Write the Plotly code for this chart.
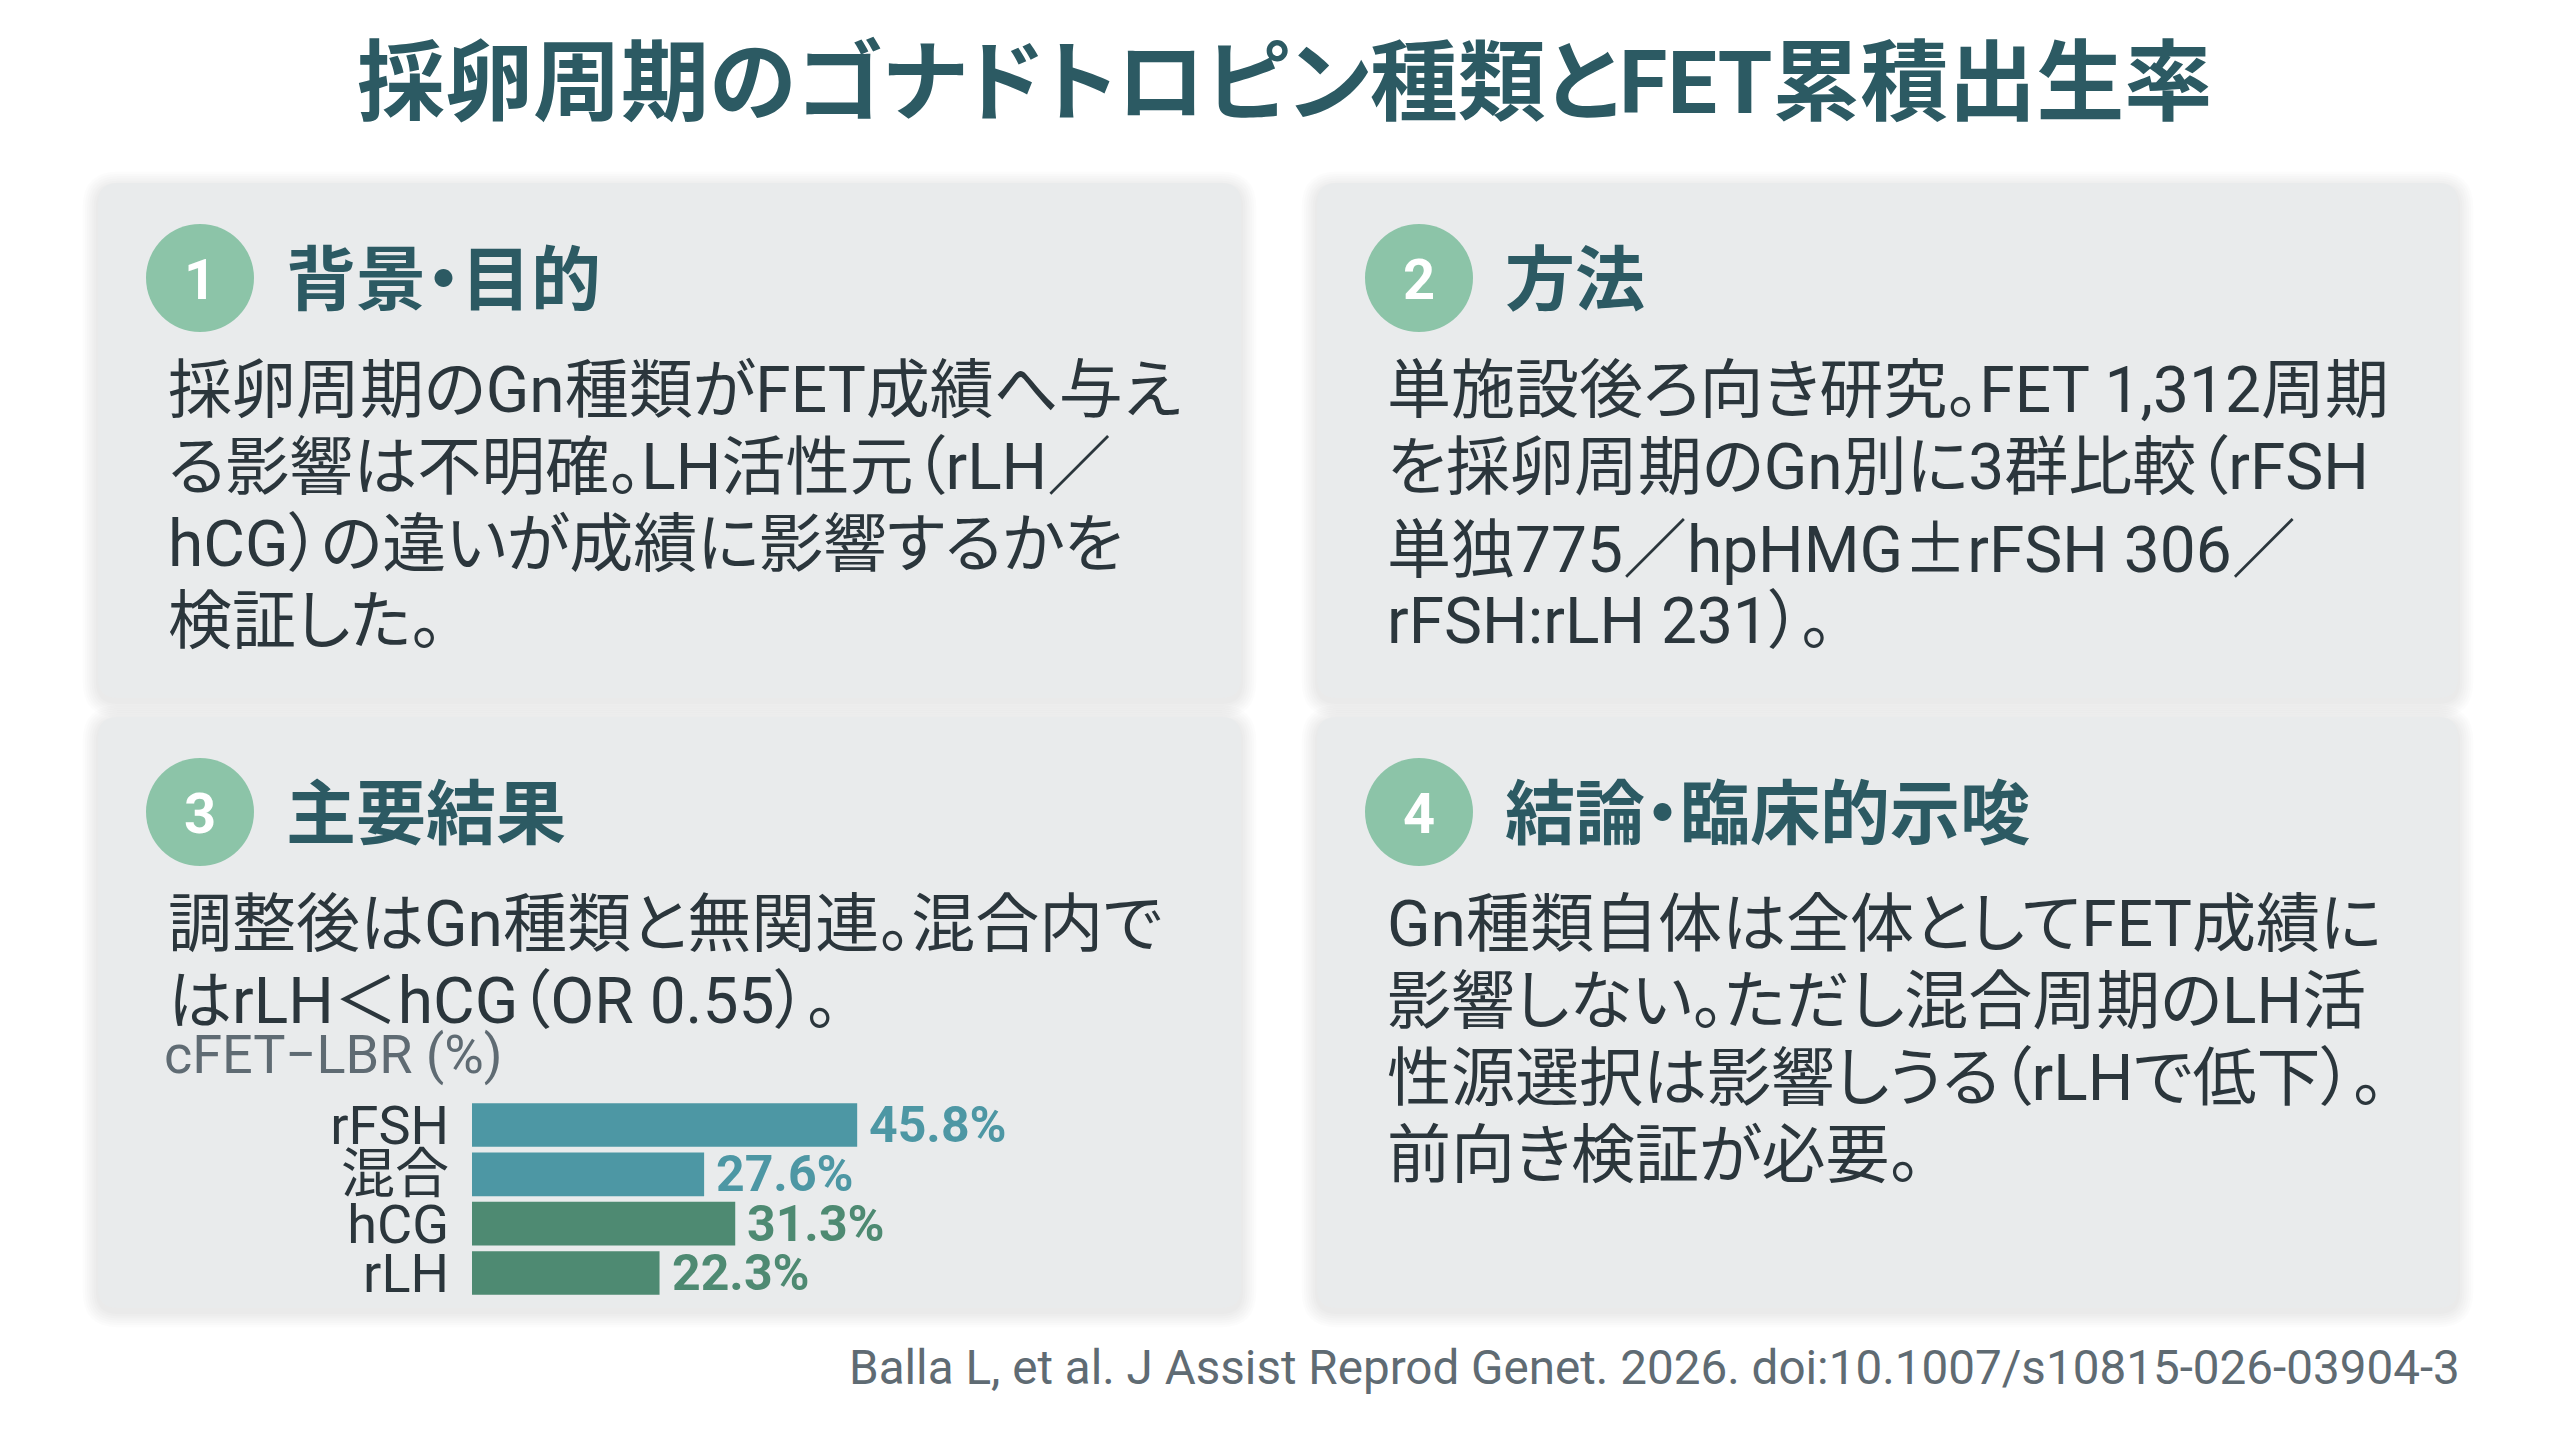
import plotly.graph_objects as go

# --- text content ---
TITLE = "採卵周期のゴナドトロピン種類とFET累積出生率"
SECTION_NUMS = ["1", "2", "3", "4"]
SECTION_HEADS = ["背景・目的", "方法", "主要結果", "結論・臨床的示唆"]
SECTION_1_LINES = [
    "採卵周期のGn種類がFET成績へ与え",
    "る影響は不明確。LH活性元（rLH／",
    "hCG）の違いが成績に影響するかを",
    "検証した。",
]
SECTION_2_LINES = [
    "単施設後ろ向き研究。FET 1,312周期",
    "を採卵周期のGn別に3群比較（rFSH",
    "単独775／hpHMG±rFSH 306／",
    "rFSH:rLH 231）。",
]
SECTION_3_LINES = [
    "調整後はGn種類と無関連。混合内で",
    "はrLH＜hCG（OR 0.55）。",
]
SECTION_4_LINES = [
    "Gn種類自体は全体としてFET成績に",
    "影響しない。ただし混合周期のLH活",
    "性源選択は影響しうる（rLHで低下）。",
    "前向き検証が必要。",
]
CHART_LABEL = "cFET−LBR (%)"
FOOTER = "Balla L, et al. J Assist Reprod Genet. 2026. doi:10.1007/s10815-026-03904-3"

# --- bar data ---
groups = ["rFSH", "混合", "hCG", "rLH"]
lbr_pct = [45.8, 27.6, 31.3, 22.3]

# --- styling ---
W, H = 2560, 1440
OFF = 8  # page body margin of the html file
FONT = "Roboto, Noto Sans CJK JP, sans-serif"
CJK = "Noto Sans CJK JP"
TEAL_DARK = "#2c5a63"
TEXT_DARK = "#2b363c"
CARD_FILL = "#e9ebec"
BADGE = "#8cc4a8"
GREY = "#5f6b73"
BAR_COLORS = ["#4d97a4", "#4d97a4", "#4e8a72", "#4e8a72"]

# card boxes (left, top, right, bottom) in page pixels
cards = [
    (98, 183, 1241, 698),
    (1317, 183, 2458, 698),
    (98, 717, 1241, 1308),
    (1317, 717, 2458, 1308),
]
section_lines = [SECTION_1_LINES, SECTION_2_LINES, SECTION_3_LINES, SECTION_4_LINES]


def jp(s):
    # proportional kana / punctuation, full-width plus-minus from the CJK font
    parts = s.split("±")
    out = []
    for i, p in enumerate(parts):
        if i > 0:
            out.append(f"<span style='font-family:{CJK};font-feature-settings:\"palt\"'>±</span>")
        if p:
            out.append(f"<span style='font-feature-settings:\"palt\"'>{p}</span>")
    return "".join(out)


def rounded(x0, y0, x1, y1, r):
    return (f"M{x0+r},{y0} L{x1-r},{y0} Q{x1},{y0} {x1},{y0+r} "
            f"L{x1},{y1-r} Q{x1},{y1} {x1-r},{y1} L{x0+r},{y1} "
            f"Q{x0},{y1} {x0},{y1-r} L{x0},{y0+r} Q{x0},{y0} {x0+r},{y0} Z")


fig = go.Figure()

# bar chart in the third card
fig.add_trace(go.Bar(
    x=lbr_pct,
    y=groups,
    orientation="h",
    marker=dict(color=BAR_COLORS, line=dict(width=0)),
    xaxis="x2",
    yaxis="y2",
    hovertemplate="%{y}: %{x:.1f}%<extra></extra>",
    showlegend=False,
))

shapes = []
annotations = []

for (x0, y0, x1, y1) in cards:
    # soft shadow
    for i in range(1, 8):
        e = 2.2 * i
        shapes.append(dict(
            type="path", xref="x", yref="y", layer="below",
            path=rounded(x0 - e, y0 - e + 4, x1 + e, y1 + e + 4, 20 + e),
            fillcolor="rgba(0,0,0,0.011)", line=dict(width=0),
        ))
    shapes.append(dict(
        type="path", xref="x", yref="y", layer="below",
        path=rounded(x0, y0, x1, y1, 20),
        fillcolor=CARD_FILL, line=dict(width=0),
    ))

for k, (x0, y0, x1, y1) in enumerate(cards):
    cx, cy = x0 + 102, y0 + 95
    shapes.append(dict(
        type="circle", xref="x", yref="y", layer="below",
        x0=cx - 54, x1=cx + 54, y0=cy - 54, y1=cy + 54,
        fillcolor=BADGE, line=dict(width=0),
    ))
    annotations.append(dict(
        x=cx, y=cy + 2, xref="x", yref="y", text=SECTION_NUMS[k],
        showarrow=False, xanchor="center", yanchor="middle",
        font=dict(family=FONT, size=56, color="white", weight="bold"),
    ))
    annotations.append(dict(
        x=x0 + 186, y=cy + 3, xref="x", yref="y", text=jp(SECTION_HEADS[k]),
        showarrow=False, xanchor="left", yanchor="middle",
        font=dict(family=FONT, size=70, color=TEAL_DARK, weight="bold"),
    ))
    for j, line in enumerate(section_lines[k]):
        annotations.append(dict(
            x=x0 + 68, y=y0 + 207 + 77 * j, xref="x", yref="y", text=jp(line),
            showarrow=False, xanchor="left", yanchor="middle",
            font=dict(family=FONT, size=64, color=TEXT_DARK),
        ))

# chart caption
annotations.append(dict(
    x=162, y=1054, xref="x", yref="y", text=CHART_LABEL,
    showarrow=False, xanchor="left", yanchor="middle",
    font=dict(family=FONT, size=54, color=GREY),
))

# value labels next to bars
for g, v, c in zip(groups, lbr_pct, BAR_COLORS):
    annotations.append(dict(
        x=v, y=g, xref="x2", yref="y2", text=f"{v:.1f}%",
        showarrow=False, xanchor="left", yanchor="middle", xshift=10,
        font=dict(family=FONT, size=50, color=c, weight="bold"),
    ))

# title and footer
annotations.append(dict(
    x=W / 2 + 4, y=82, xref="x", yref="y", text=jp(TITLE),
    showarrow=False, xanchor="center", yanchor="middle",
    font=dict(family=FONT, size=88, color=TEAL_DARK, weight="bold"),
))
annotations.append(dict(
    x=2462, y=1368, xref="x", yref="y", text=FOOTER,
    showarrow=False, xanchor="right", yanchor="middle",
    font=dict(family=FONT, size=47.6, color=GREY),
))

px_per_pct = 8.41
bar_left = 472 - OFF
x_max = 60
slot_top, slot_bottom = 1094 - OFF, 1304 - OFF

fig.update_layout(
    width=W,
    height=H,
    margin=dict(l=0, r=0, t=0, b=0),
    paper_bgcolor="white",
    plot_bgcolor="rgba(0,0,0,0)",
    showlegend=False,
    xaxis=dict(range=[OFF, W + OFF], visible=False, domain=[0, 1], fixedrange=True),
    yaxis=dict(range=[H + OFF, OFF], visible=False, domain=[0, 1], fixedrange=True),
    xaxis2=dict(
        domain=[bar_left / W, (bar_left + x_max * px_per_pct) / W],
        range=[0, x_max], anchor="y2", visible=False, fixedrange=True,
    ),
    yaxis2=dict(
        domain=[1 - slot_bottom / H, 1 - slot_top / H],
        anchor="x2", autorange="reversed", type="category",
        tickmode="array", tickvals=groups, ticktext=groups,
        showgrid=False, zeroline=False, showline=False, ticks="",
        ticklabelstandoff=22,
        tickfont=dict(family=FONT, size=54, color=TEXT_DARK),
        fixedrange=True,
    ),
    bargap=0.115,
    shapes=shapes,
    annotations=annotations,
)

fig.write_html("out.html")
